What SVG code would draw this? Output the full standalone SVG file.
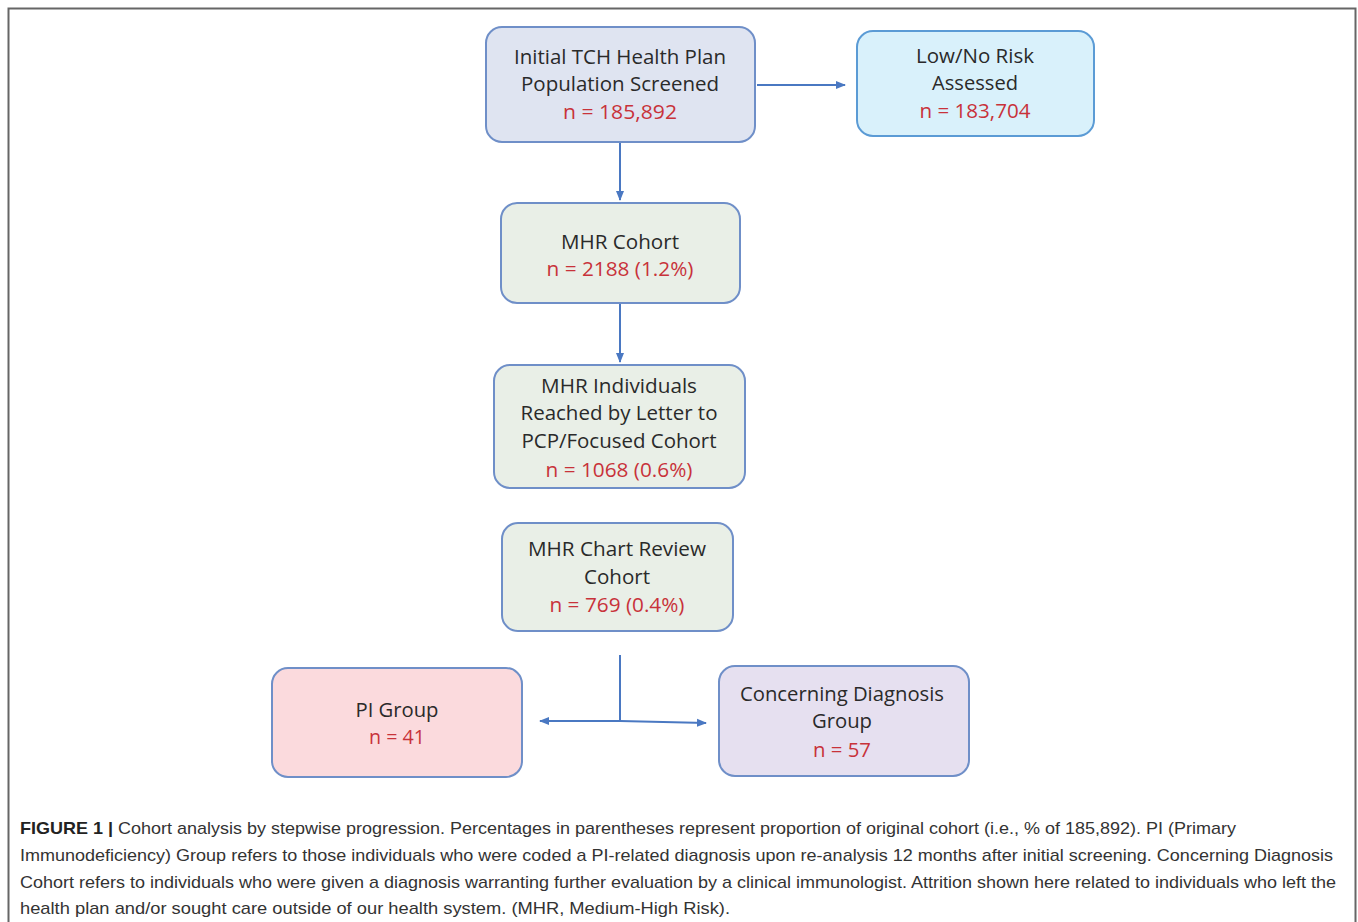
<svg xmlns="http://www.w3.org/2000/svg" width="1358" height="922" viewBox="0 0 1358 922">
<style>
.box{stroke-width:2}
.t{font-family:"Open Sans","Liberation Sans",sans-serif;font-size:20px;fill:#2a2a2a;text-anchor:middle}
.n{fill:#c8323a}
.cap{font-family:"Liberation Sans",Arial,sans-serif;font-size:17px;fill:#333}
.conn{stroke:#4a78c2;stroke-width:2;fill:none}
</style>
<defs>
<marker id="ah" viewBox="0 0 10 10" refX="9" refY="5" markerWidth="5" markerHeight="5" orient="auto"><path d="M0,1 L10,5 L0,9 z" fill="#4a78c2"/></marker>
</defs>
<rect x="0" y="0" width="1358" height="922" fill="#fff"/>
<path d="M8.5,922 V8.5 H1355.5 V922" fill="none" stroke="#666" stroke-width="2"/>
<g id="n1"><rect class="box" x="486" y="27" width="269" height="115" rx="16" fill="#dfe4f1" stroke="#6f8fc8"/>
<text class="t" x="620" y="64" textLength="212" lengthAdjust="spacingAndGlyphs">Initial TCH Health Plan</text>
<text class="t" x="620" y="91" textLength="198" lengthAdjust="spacingAndGlyphs">Population Screened</text>
<text class="t n" x="620" y="119" textLength="114" lengthAdjust="spacingAndGlyphs">n = 185,892</text></g>
<g id="n2"><rect class="box" x="857" y="31" width="237" height="105" rx="16" fill="#d9f1fb" stroke="#5b9bd5"/>
<text class="t" x="975" y="63" textLength="118" lengthAdjust="spacingAndGlyphs">Low/No Risk</text>
<text class="t" x="975" y="90" textLength="86" lengthAdjust="spacingAndGlyphs">Assessed</text>
<text class="t n" x="975" y="118" textLength="111" lengthAdjust="spacingAndGlyphs">n = 183,704</text></g>
<g id="n3"><rect class="box" x="501" y="203" width="239" height="100" rx="16" fill="#e9efe7" stroke="#6f8fc8"/>
<text class="t" x="620" y="249" textLength="118" lengthAdjust="spacingAndGlyphs">MHR Cohort</text>
<text class="t n" x="620" y="276" textLength="147" lengthAdjust="spacingAndGlyphs">n = 2188 (1.2%)</text></g>
<g id="n4"><rect class="box" x="494" y="365" width="251" height="123" rx="16" fill="#e9efe7" stroke="#6f8fc8"/>
<text class="t" x="619" y="393" textLength="156" lengthAdjust="spacingAndGlyphs">MHR Individuals</text>
<text class="t" x="619" y="420" textLength="197" lengthAdjust="spacingAndGlyphs">Reached by Letter to</text>
<text class="t" x="619" y="448" textLength="195" lengthAdjust="spacingAndGlyphs">PCP/Focused Cohort</text>
<text class="t n" x="619" y="477" textLength="147" lengthAdjust="spacingAndGlyphs">n = 1068 (0.6%)</text></g>
<g id="n5"><rect class="box" x="502" y="523" width="231" height="108" rx="16" fill="#e9efe7" stroke="#6f8fc8"/>
<text class="t" x="617" y="556" textLength="178" lengthAdjust="spacingAndGlyphs">MHR Chart Review</text>
<text class="t" x="617" y="584" textLength="66" lengthAdjust="spacingAndGlyphs">Cohort</text>
<text class="t n" x="617" y="612" textLength="135" lengthAdjust="spacingAndGlyphs">n = 769 (0.4%)</text></g>
<g id="n6"><rect class="box" x="272" y="668" width="250" height="109" rx="16" fill="#fbdadd" stroke="#6f8fc8"/>
<text class="t" x="397" y="717" textLength="83" lengthAdjust="spacingAndGlyphs">PI Group</text>
<text class="t n" x="397" y="744" textLength="56" lengthAdjust="spacingAndGlyphs">n = 41</text></g>
<g id="n7"><rect class="box" x="719" y="666" width="250" height="110" rx="16" fill="#e6e0f0" stroke="#6f8fc8"/>
<text class="t" x="842" y="701" textLength="204" lengthAdjust="spacingAndGlyphs">Concerning Diagnosis</text>
<text class="t" x="842" y="728" textLength="60" lengthAdjust="spacingAndGlyphs">Group</text>
<text class="t n" x="842" y="757" textLength="58" lengthAdjust="spacingAndGlyphs">n = 57</text></g>
<g id="connectors">
<path class="conn" d="M757,85 H845" marker-end="url(#ah)"/>
<path class="conn" d="M620,143 V200" marker-end="url(#ah)"/>
<path class="conn" d="M620,304 V362" marker-end="url(#ah)"/>
<path class="conn" d="M620,655 V721"/>
<path class="conn" d="M620,721 H540" marker-end="url(#ah)"/>
<path class="conn" d="M620,721 L706,723" marker-end="url(#ah)"/>
</g>
<text class="cap" x="20" y="834" textLength="1216" lengthAdjust="spacingAndGlyphs"><tspan font-weight="bold" fill="#222">FIGURE 1 |</tspan> Cohort analysis by stepwise progression. Percentages in parentheses represent proportion of original cohort (i.e., % of 185,892). PI (Primary</text>
<text class="cap" x="20" y="861" textLength="1313" lengthAdjust="spacingAndGlyphs">Immunodeficiency) Group refers to those individuals who were coded a PI-related diagnosis upon re-analysis 12 months after initial screening. Concerning Diagnosis</text>
<text class="cap" x="20" y="888" textLength="1316" lengthAdjust="spacingAndGlyphs">Cohort refers to individuals who were given a diagnosis warranting further evaluation by a clinical immunologist. Attrition shown here related to individuals who left the</text>
<text class="cap" x="20" y="914" textLength="710" lengthAdjust="spacingAndGlyphs">health plan and/or sought care outside of our health system. (MHR, Medium-High Risk).</text>
</svg>
